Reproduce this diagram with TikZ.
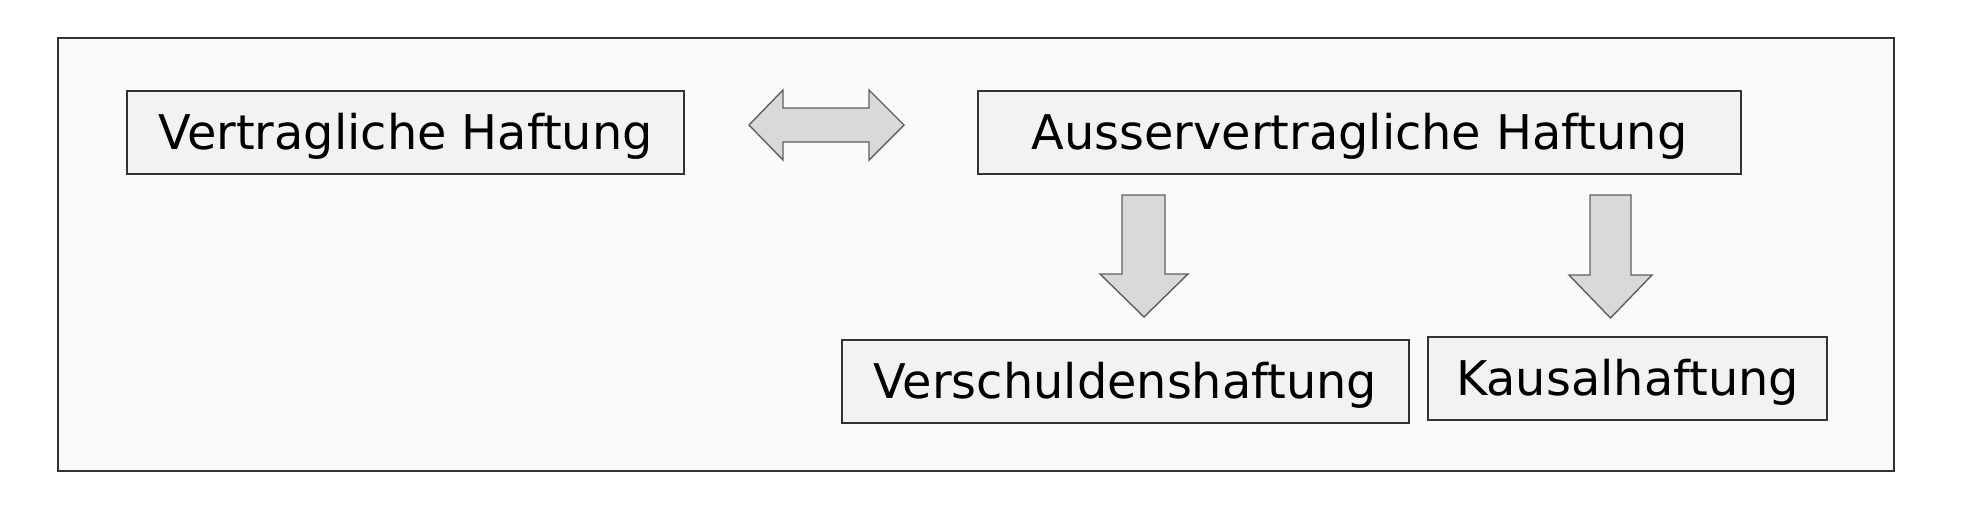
\documentclass[tikz,border=0pt]{standalone}
\usepackage{fontspec}
\setmainfont{DejaVu Sans}
\usepackage{tikz}
\usetikzlibrary{positioning}
\usepackage{xcolor}
\definecolor{framegray}{RGB}{50,50,50}
\definecolor{panelfill}{RGB}{250,250,250}
\definecolor{boxfill}{RGB}{242,242,242}
\definecolor{arrowfill}{RGB}{217,217,217}
\definecolor{arrowline}{RGB}{95,95,95}

\begin{document}
\begin{tikzpicture}[
    x=0.5pt, y=-0.5pt,
    box/.style={
        rectangle, draw=framegray, fill=boxfill, line width=1pt,
        minimum height=41.5pt, inner sep=0pt,
        text height=17.4pt, text depth=0pt,
        font=\fontsize{23.9}{28}\selectfont
    },
    blockarrow/.style={draw=arrowline, fill=arrowfill, line width=0.7pt, line join=miter}
]

% Background and frame
\useasboundingbox (0,0) rectangle (1982,504);
\fill[white] (0,0) rectangle (1982,504);
\draw[framegray, fill=panelfill, line width=0.9pt] (58,38) rectangle (1894,471);

% Top row
\node[box, minimum width=278.5pt] (vertraglich) at (405.5,132) {Vertragliche Haftung};
\node[box, minimum width=381.5pt] (ausser) at (1359.5,132) {Ausservertragliche Haftung};

% Bottom row
\node[box, minimum width=283.5pt] (verschulden) at (1125.5,381) {Verschuldenshaftung};
\node[box, minimum width=199.5pt] (kausal) at (1627.5,378.5) {Kausalhaftung};

% Double arrow between the two kinds
\draw[blockarrow] (749,125) -- (783,90) -- (783,108) -- (869,108) -- (869,90)
    -- (904,125) -- (869,160) -- (869,142) -- (783,142) -- (783,160) -- cycle;

% Down arrows
\draw[blockarrow] (1122,195) -- (1165,195) -- (1165,274) -- (1188,274)
    -- (1144,317) -- (1100,274) -- (1122,274) -- cycle;
\draw[blockarrow] (1590,195) -- (1631,195) -- (1631,275) -- (1652,275)
    -- (1610.5,318) -- (1569,275) -- (1590,275) -- cycle;

\end{tikzpicture}
\end{document}
